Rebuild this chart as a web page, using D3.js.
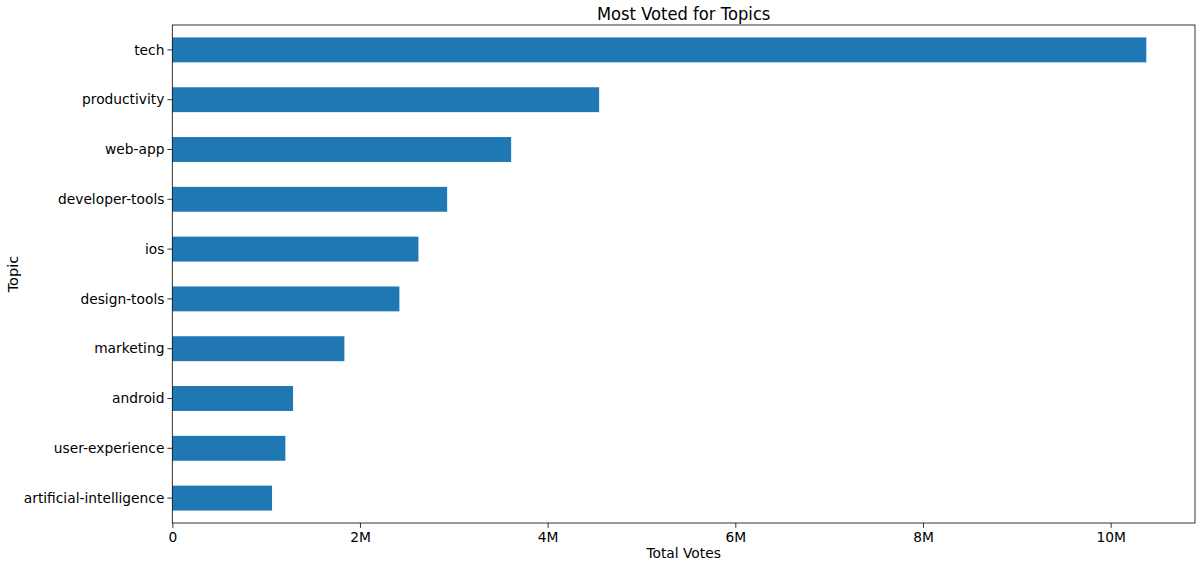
<!DOCTYPE html>
<html>
<head>
<meta charset="utf-8">
<script src="https://cdn.jsdelivr.net/npm/d3@7"></script>
<style>
  body { margin: 0; background: #fff; }
  svg { display: block; font-family: "DejaVu Sans", sans-serif; }
</style>
</head>
<body>
<svg id="chart" width="1200" height="567"></svg>
<script>
const topics = ["tech", "productivity", "web-app", "developer-tools", "ios", "design-tools", "marketing", "android", "user-experience", "artificial-intelligence"];
const votes = [10380000, 4549000, 3611000, 2929000, 2623000, 2420000, 1834000, 1287000, 1205000, 1063000];
const xTicks = [0, 2e6, 4e6, 6e6, 8e6, 10e6];
const xTickLabels = ["0", "2M", "4M", "6M", "8M", "10M"];
const title = "Most Voted for Topics";
const xLabel = "Total Votes";
const yLabel = "Topic";

const svg = d3.select("#chart");
const m = { left: 172.3, right: 1195, top: 25, bottom: 523 };
const maxV = d3.max(votes);
const x = d3.scaleLinear().domain([0, maxV * 1.05]).range([m.left, m.right]);
const y = d3.scaleBand().domain(topics).range([m.top, m.bottom]).paddingInner(0.5).paddingOuter(0.25);

const data = topics.map((t, i) => ({ t, v: votes[i] }));

svg.append("g").selectAll("rect").data(data).join("rect")
  .attr("x", x(0))
  .attr("y", d => y(d.t))
  .attr("width", d => x(d.v) - x(0))
  .attr("height", y.bandwidth())
  .attr("fill", "#1f77b4");

// frame
svg.append("rect")
  .attr("x", m.left).attr("y", m.top)
  .attr("width", m.right - m.left).attr("height", m.bottom - m.top)
  .attr("fill", "none").attr("stroke", "#000").attr("stroke-width", 0.8);

const fs = 14.6;
const sx = 0.945;
const xAxis = d3.axisBottom(x).tickValues(xTicks)
  .tickFormat((d, i) => xTickLabels[i]).tickSize(4.9).tickPadding(3.5);
const gx = svg.append("g").attr("transform", `translate(0,${m.bottom})`).call(xAxis);
gx.select(".domain").remove();
gx.selectAll("line").attr("stroke", "#000").attr("stroke-width", 0.8);
gx.selectAll("text").attr("font-size", fs).attr("fill", "#000").attr("font-family", "DejaVu Sans")
  .each(function() {
    const t = d3.select(this);
    const yy = +t.attr("y");
    t.attr("y", 0).attr("transform", `translate(0,${yy}) scale(${sx},1)`);
  });

const yAxis = d3.axisLeft(y).tickSize(4.9).tickPadding(3);
const gy = svg.append("g").attr("transform", `translate(${m.left},0)`).call(yAxis);
gy.select(".domain").remove();
gy.selectAll("line").attr("stroke", "#000").attr("stroke-width", 0.8);
gy.selectAll("text").attr("font-size", fs).attr("fill", "#000").attr("font-family", "DejaVu Sans")
  .each(function() {
    const t = d3.select(this);
    const xx = +t.attr("x");
    t.attr("x", 0).attr("transform", `translate(${xx},0) scale(${sx},1)`);
  });

svg.append("text")
  .attr("transform", `translate(${(m.left + m.right) / 2},20) scale(${sx},1)`)
  .attr("text-anchor", "middle").attr("font-size", 17.3).attr("fill", "#000")
  .text(title);

svg.append("text")
  .attr("transform", `translate(${(m.left + m.right) / 2},558) scale(${sx},1)`)
  .attr("text-anchor", "middle").attr("font-size", fs).attr("fill", "#000")
  .text(xLabel);

svg.append("text")
  .attr("transform", `translate(18,${(m.top + m.bottom) / 2}) rotate(-90)`)
  .attr("text-anchor", "middle").attr("font-size", fs).attr("fill", "#000")
  .text(yLabel);
</script>
</body>
</html>
